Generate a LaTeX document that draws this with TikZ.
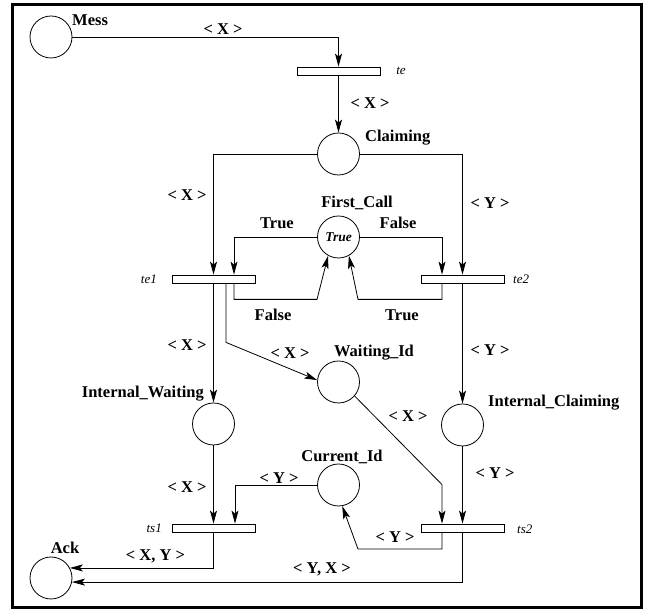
\documentclass[tikz,border=0pt]{standalone}
\usepackage{fontspec}
\setmainfont{Liberation Serif}
\usetikzlibrary{positioning,calc,arrows.meta}

\begin{document}
\begin{tikzpicture}[
    x=1pt, y=1pt,
    node distance=80pt,
    on grid,
    netplace/.style={circle, draw, line width=0.8pt, minimum size=42pt, inner sep=0pt},
    nettrans/.style={rectangle, draw, line width=0.8pt, fill=white, minimum width=83pt, minimum height=8pt, inner sep=0pt},
    netarc/.style={-{Stealth[length=13pt, width=7pt, inset=3pt]}, line width=0.8pt},
    inscr/.style={font=\fontsize{16.5}{18}\selectfont\bfseries, inner sep=0pt},
    tlabel/.style={font=\fontsize{13}{15}\selectfont\itshape, inner sep=0pt},
]
\useasboundingbox (0,0) rectangle (652,609);
\draw[line width=3pt] (12.5,604) rectangle (641.5,1.7);

% places and transitions
\node[netplace] (mess) at (51,572) {};
\node[nettrans, below right=34pt and 287.5pt of mess] (te) {};
\node[netplace, below=83pt of te] (claiming) {};
\node[netplace, below=83pt of claiming] (first) {\fontsize{13.5}{15}\selectfont\bfseries\itshape True};
\node[nettrans, below left=42pt and 125pt of first] (te1) {};
\node[nettrans, below right=42pt and 124pt of first] (te2) {};
\node[netplace, below=145pt of first] (wait) {};
\node[netplace, below=145pt of te1] (iw) {};
\node[netplace, below=146pt of te2] (ic) {};
\node[netplace, below=103pt of wait] (current) {};
\node[nettrans, below=249pt of te1] (ts1) {};
\node[nettrans, below=249pt of te2] (ts2) {};
\node[netplace, below=541pt of mess] (ack) {};

% place names
\node[inscr, anchor=west] (lmess) at (72,589) {Mess};
\node[inscr, anchor=west] (lclaiming) at (365,471) {Claiming};
\node[inscr] (lfirst) at (357,406) {First\_Call};
\node[inscr] (lwait) at (374,256) {Waiting\_Id};
\node[inscr, anchor=east] (liw) at (204,215) {Internal\_Waiting};
\node[inscr, anchor=west] (lic) at (488,206) {Internal\_Claiming};
\node[inscr] (lcurrent) at (342,152) {Current\_Id};
\node[inscr] (lack) at (65,61) {Ack};

% transition names
\node[tlabel] (lte) at (401,538) {te};
\node[tlabel, anchor=east] (lte1) at (157,330) {te1};
\node[tlabel, anchor=west] (lte2) at (513,330) {te2};
\node[tlabel, anchor=east] (lts1) at (162,81) {ts1};
\node[tlabel, anchor=west] (lts2) at (517,80) {ts2};

% arcs
\draw[netarc] (mess.east) -| (te.north);
\draw[netarc] (te) -- (claiming);
\draw[netarc] (claiming.west) -| (te1.north);
\draw[netarc] (claiming.east) -| (te2.north);
\draw[netarc] (first.west) -| ($(te1.north)+(20.5,0)$);
\draw[netarc] (first.east) -| ($(te2.north)+(-20.5,0)$);
\draw[netarc] ($(te1.south)+(20.5,0)$) -- ++(0,-16) -- ++(83,0) -- (first.241);
\draw[netarc] ($(te2.south)+(-20.5,0)$) -- ++(0,-16) -- ++(-84,0) -- (first.299);
\draw[netarc] (te1) -- (iw);
\draw[netarc] ($(te1.south)+(12.5,0)$) -- ++(0,-59) -- (wait.175);
\draw[netarc] (te2) -- (ic);
\draw[netarc] (iw) -- (ts1);
\draw[netarc] (ic) -- (ts2);
\draw[netarc] (wait.-41) -- ($(ts2.north)+(-20.5,39)$) -- ($(ts2.north)+(-20.5,0)$);
\draw[netarc] (current.west) -| ($(ts1.north)+(21.5,0)$);
\draw[netarc] ($(ts2.south)+(-20.5,0)$) -- ++(0,-16.7) -- ++(-84,0) -- (current.280);
\draw[netarc] (ts1.south) |- (ack.28);
\draw[netarc] (ts2.south) |- (ack.-11);

% arc inscriptions
\node[inscr] (i1) at (223,580) {< X >};
\node[inscr] (i2) at (370,506) {< X >};
\node[inscr] (i3) at (187,414) {< X >};
\node[inscr] (i4) at (490,406) {< Y >};
\node[inscr] (i5) at (277,386) {True};
\node[inscr] (i6) at (398,386) {False};
\node[inscr] (i7) at (273,294) {False};
\node[inscr] (i8) at (402,294) {True};
\node[inscr] (i9) at (187,264) {< X >};
\node[inscr] (i10) at (290,256) {< X >};
\node[inscr] (i11) at (490,259) {< Y >};
\node[inscr] (i12) at (408,193) {< X >};
\node[inscr] (i13) at (279,131) {< Y >};
\node[inscr] (i14) at (187,122) {< X >};
\node[inscr] (i15) at (495,136) {< Y >};
\node[inscr] (i16) at (395,72) {< Y >};
\node[inscr] (i17) at (155.5,53) {< X, Y >};
\node[inscr] (i18) at (322,40) {< Y, X >};

\end{tikzpicture}
\end{document}
